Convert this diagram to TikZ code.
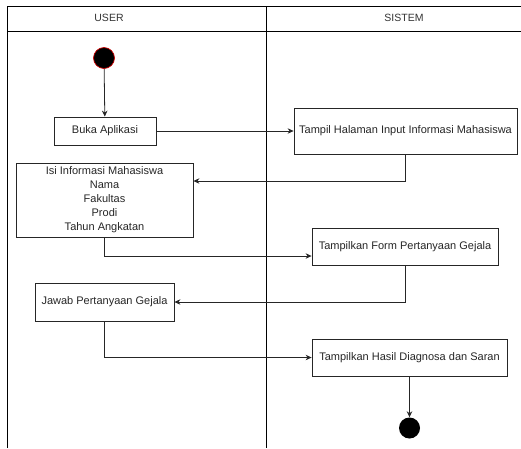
\documentclass[tikz,border=0pt]{standalone}
\usepackage{fontspec}
\setmainfont{Liberation Sans}
\usetikzlibrary{arrows.meta}
\begin{document}
\begin{tikzpicture}[x=1pt,y=-1pt,
  lane/.style={line width=0.9pt,draw=black},
  act/.style={draw=black!85,line width=0.8pt,rectangle,inner sep=0pt,
    font=\fontsize{11}{14}\selectfont,text=black!85,align=center},
  flow/.style={line width=0.8pt,draw=black!85,-{Stealth[length=6pt,width=5.5pt]}},
  hdr/.style={font=\fontsize{10.5}{12}\selectfont,text=black!80}]
\useasboundingbox (0,0) rectangle (521,448);
% swimlane frame
\draw[lane] (7,448) -- (7,6) -- (530,6);
\draw[lane] (7,31) -- (530,31);
\draw[lane] (266,6) -- (266,448);
\node[hdr] (huser) at (109,18) {USER};
\node[hdr] (hsis) at (404,18) {SISTEM};
% activities
\node[circle,fill=black,draw=red!80!black,line width=0.7pt,minimum size=21pt,inner sep=0pt] (start) at (104,58) {};
\node[act,minimum width=102pt,minimum height=28pt] (buka) at (105,131) {Buka Aplikasi};
\node[act,minimum width=223pt,minimum height=46pt] (tampil) at (405.5,131) {Tampil Halaman Input Informasi Mahasiswa};
\node[act,minimum width=177pt,minimum height=74pt] (isi) at (104.5,200) {Isi Informasi Mahasiswa\\Nama\\Fakultas\\Prodi\\Tahun Angkatan};
\node[act,minimum width=186pt,minimum height=37pt] (form) at (405,246.5) {Tampilkan Form Pertanyaan Gejala};
\node[act,minimum width=139pt,minimum height=38pt] (jawab) at (104.5,302) {Jawab Pertanyaan Gejala};
\node[act,minimum width=195pt,minimum height=37pt] (hasil) at (409.5,357.5) {Tampilkan Hasil Diagnosa dan Saran};
\node[circle,fill=black,minimum size=21pt,inner sep=0pt] (stop) at (409.5,428) {};
% control flow
\draw[flow] (start) -- (buka);
\draw[flow] (buka) -- (tampil);
\draw[flow] (tampil.south) |- (isi.east |- 0,181);
\draw[flow] (isi.south) |- (form.west |- 0,256);
\draw[flow] (form.south) |- (jawab.east);
\draw[flow] (jawab.south) |- (hasil.west);
\draw[flow] (hasil) -- (stop);
\end{tikzpicture}
\end{document}
